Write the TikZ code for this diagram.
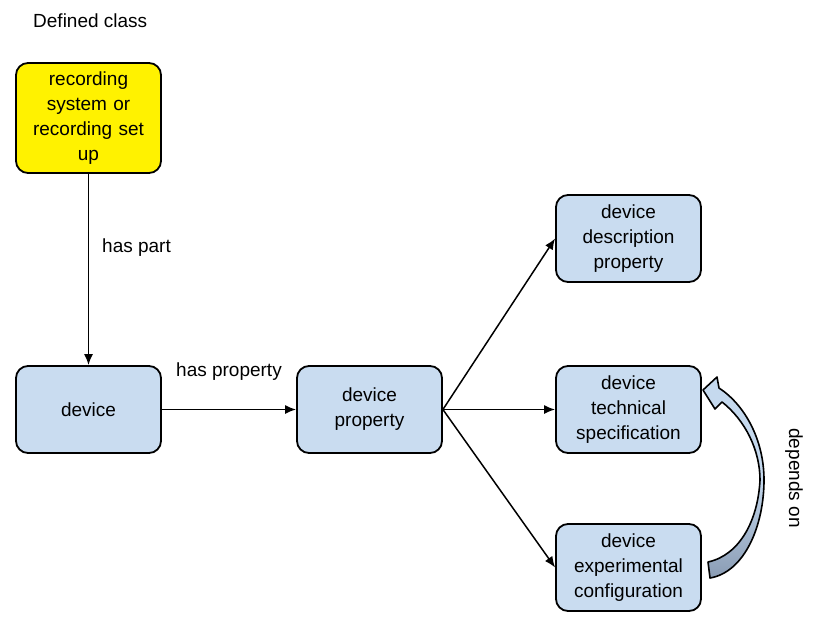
\documentclass[tikz,border=0pt]{standalone}
\usepackage{fontspec}
\setmainfont{Liberation Sans}
\usetikzlibrary{arrows.meta}
\definecolor{boxblue}{HTML}{C9DCF0}
\definecolor{arrowdark}{HTML}{8A9CB4}
\definecolor{arrowlight}{HTML}{C5D9EE}
\begin{document}
\begin{tikzpicture}[x=1pt,y=-1pt,
  box/.style={draw=black, line width=1.8pt, rounded corners=12pt, fill=boxblue,
    minimum width=145pt, minimum height=87pt, text width=135pt, align=center,
    font=\fontsize{19}{25}\selectfont, inner sep=2pt},
  lbl/.style={font=\fontsize{19}{25}\selectfont, inner sep=0pt},
  conn/.style={line width=1.5pt, -{Latex[length=11pt,width=9pt]}}]
\useasboundingbox (0,0) rectangle (813,631);
\node[lbl, anchor=west] (title) at (33,21) {Defined class};
\node[box, fill=yellow, minimum height=110pt] (rec) at (88.5,118) {\raisebox{-2pt}{\parbox{135pt}{\centering recording\\system or\\recording set\\up}}};
\node[box] (dev) at (88.5,409.5) {\raisebox{-2pt}{device}};
\node[box] (dp) at (369.5,409.5) {\raisebox{-2pt}{\parbox{135pt}{\centering device\\property}}};
\node[box] (desc) at (628.5,238.5) {\raisebox{-2pt}{\parbox{135pt}{\centering device\\description\\property}}};
\node[box] (tech) at (628.5,409.5) {\raisebox{-2pt}{\parbox{135pt}{\centering device\\technical\\specification}}};
\node[box] (exp) at (628.5,567.5) {\raisebox{-2pt}{\parbox{135pt}{\centering device\\experimental\\configuration}}};
\draw[conn] (rec.south) -- (dev.north);
\node[lbl, anchor=west] (haspart) at (102,248) {has part};
\draw[conn] (dev.east) -- (dp.west);
\node[lbl] (hasprop) at (229,372) {has property};
\draw[conn] (dp.east) -- (desc.west);
\draw[conn] (dp.east) -- (tech.west);
\draw[conn] (dp.east) -- (exp.west);
\draw[line width=1.6pt, line join=round, top color=arrowlight, bottom color=arrowdark, middle color=arrowlight]
  (708,562) .. controls (740,555) and (758,520) .. (760,480)
  .. controls (760,450) and (745,420) .. (722,402)
  -- (715,409) -- (703,390) -- (717,377) -- (719,388)
  .. controls (745,405) and (764,440) .. (764,480)
  .. controls (764,525) and (745,572) .. (710,578) -- cycle;
\node[lbl, rotate=-90] (dep) at (794,478) {depends on};
\end{tikzpicture}
\end{document}
